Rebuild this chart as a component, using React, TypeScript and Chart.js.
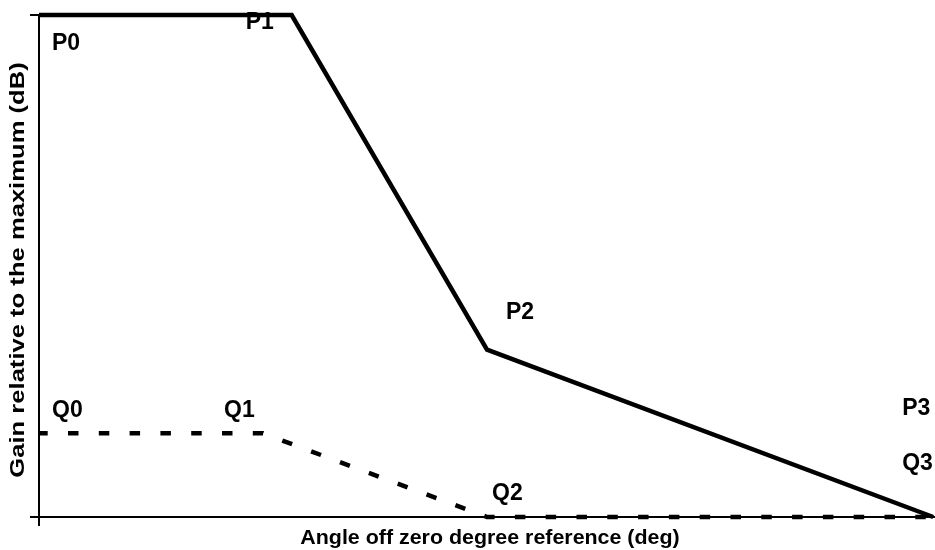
import React, { useEffect, useRef } from "react";
import { Chart, registerables } from "chart.js";

Chart.register(...registerables);

// Envelope points (angle off reference, gain relative to max)
const pAngles = [0, 28.2, 50, 99.8];
const pGains = [30, 30, 10, 0];
const pLabels = ["P0", "P1", "P2", "P3"];

const qAngles = [0, 25, 50, 99.8];
const qGains = [5, 5, 0, 0];
const qLabels = ["Q0", "Q1", "Q2", "Q3"];

const xMin = 0;
const xMax = 100;
const yMin = 0;
const yMax = 30;

const xTitle = "Angle off zero degree reference (deg)";
const yTitle = "Gain relative to the maximum (dB)";

// label placement relative to each point (pixels)
const pLabelOffsets = [
  [13, 35],
  [-46, 14],
  [19, -31],
  [-31, -102],
];
const qLabelOffsets = [
  [13, -16],
  [-39, -16],
  [5, -17],
  [-31, -47],
];

const FONT = "'Liberation Sans', Arial, sans-serif";

const pointLabelPlugin = {
  id: "pointLabels",
  afterDatasetsDraw(chart: any) {
    const ctx = chart.ctx;
    ctx.save();
    ctx.font = `bold 23px ${FONT}`;
    ctx.fillStyle = "#000";
    ctx.textAlign = "left";
    ctx.textBaseline = "alphabetic";
    const sets = [
      { labels: pLabels, offs: pLabelOffsets },
      { labels: qLabels, offs: qLabelOffsets },
    ];
    sets.forEach((s, i) => {
      const meta = chart.getDatasetMeta(i);
      meta.data.forEach((pt: any, j: number) => {
        ctx.fillText(s.labels[j], pt.x + s.offs[j][0], pt.y + s.offs[j][1]);
      });
    });
    ctx.restore();
  },
};

const axisTitlePlugin = {
  id: "axisTitles",
  afterDraw(chart: any) {
    const ctx = chart.ctx;
    const area = chart.chartArea;
    ctx.save();
    ctx.fillStyle = "#000";
    ctx.textAlign = "center";
    ctx.textBaseline = "middle";
    ctx.font = `bold 20px ${FONT}`;
    // x title
    ctx.save();
    ctx.translate((area.left + area.right) / 2 + 3, chart.height - 12);
    ctx.scale(1.07, 1);
    ctx.fillText(xTitle, 0, 0);
    ctx.restore();
    // y title
    ctx.save();
    ctx.translate(18, (area.top + area.bottom) / 2 + 4);
    ctx.rotate(-Math.PI / 2);
    ctx.scale(1.28, 1);
    ctx.fillText(yTitle, 0, 0);
    ctx.restore();
    ctx.restore();
  },
};

export default function App() {
  const ref = useRef<HTMLCanvasElement | null>(null);
  useEffect(() => {
    if (!ref.current) return;
    const chart = new Chart(ref.current, {
      type: "line",
      data: {
        datasets: [
          {
            label: "P",
            data: pAngles.map((x, i) => ({ x, y: pGains[i] })),
            borderColor: "#000",
            borderWidth: 4.5,
            pointRadius: 0,
            tension: 0,
            borderJoinStyle: "miter",
            borderCapStyle: "butt",
            fill: false,
            clip: false,
          },
          {
            label: "Q",
            data: qAngles.map((x, i) => ({ x, y: qGains[i] })),
            borderColor: "#000",
            borderWidth: 4.5,
            borderDash: [10.5, 20.3],
            borderDashOffset: 1.8,
            pointRadius: 0,
            tension: 0,
            borderCapStyle: "butt",
            fill: false,
            clip: false,
          },
        ],
      },
      options: {
        responsive: false,
        animation: false,
        layout: { padding: { top: 15, right: 0, left: 0, bottom: 0 } },
        plugins: {
          legend: { display: false },
          tooltip: { enabled: false },
        },
        scales: {
          x: {
            type: "linear",
            min: xMin,
            max: xMax,
            afterBuildTicks: (s: any) => {
              s.ticks = [{ value: xMin }];
            },
            afterFit: (s: any) => {
              s.height = 33;
            },
            ticks: { display: false },
            grid: {
              drawOnChartArea: false,
              drawTicks: true,
              tickLength: 9,
              color: "#000",
              lineWidth: 2,
            },
            border: { display: true, color: "#000", width: 2 },
            title: { display: false, text: xTitle },
          },
          y: {
            type: "linear",
            min: yMin,
            max: yMax,
            afterBuildTicks: (s: any) => {
              s.ticks = [{ value: yMin }, { value: yMax }];
            },
            afterFit: (s: any) => {
              s.width = 39;
            },
            ticks: { display: false },
            grid: {
              drawOnChartArea: false,
              drawTicks: true,
              tickLength: 9,
              color: "#000",
              lineWidth: 2,
            },
            border: { display: true, color: "#000", width: 2 },
            title: { display: false, text: yTitle },
          },
        },
      },
      plugins: [pointLabelPlugin, axisTitlePlugin],
    } as any);
    return () => chart.destroy();
  }, []);
  return (
    <div style={{ position: "absolute", left: 0, top: 0, width: 935, height: 550, background: "#fff" }}>
      <canvas ref={ref} width={935} height={550} style={{ display: "block" }} />
    </div>
  );
}
